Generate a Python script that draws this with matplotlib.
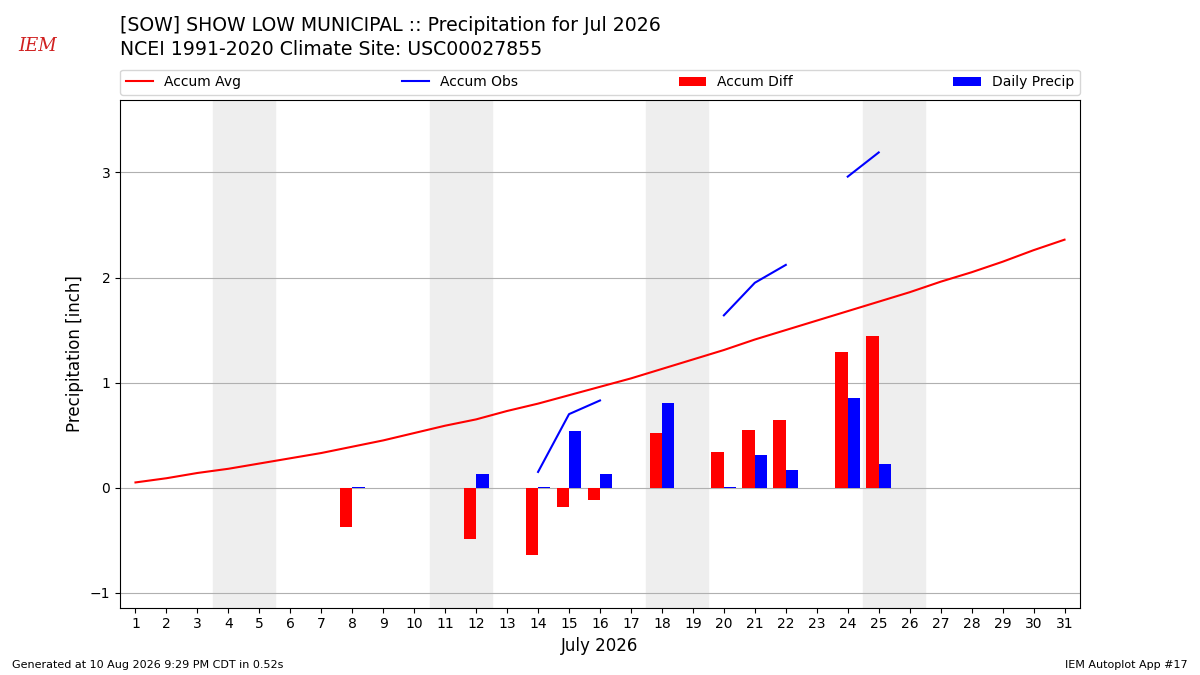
import numpy as np
import matplotlib
matplotlib.use("Agg")
import matplotlib.pyplot as plt

nan = np.nan

days = np.arange(1, 32)
accum_avg = [0.05, 0.09, 0.14, 0.18, 0.23, 0.28, 0.33, 0.39, 0.45, 0.52,
             0.59, 0.65, 0.73, 0.80, 0.88, 0.96, 1.04, 1.13, 1.22, 1.31,
             1.41, 1.50, 1.59, 1.68, 1.77, 1.86, 1.96, 2.05, 2.15, 2.26, 2.36]
accum_obs = [nan, nan, nan, nan, nan, nan, nan, 0.02, nan, nan,
             nan, 0.16, nan, 0.15, 0.70, 0.83, nan, 1.65, nan, 1.64,
             1.95, 2.12, nan, 2.96, 3.19, nan, nan, nan, nan, nan, nan]
accum_diff = [nan, nan, nan, nan, nan, nan, nan, -0.37, nan, nan,
              nan, -0.49, nan, -0.64, -0.18, -0.12, nan, 0.52, nan, 0.34,
              0.55, 0.64, nan, 1.29, 1.44, nan, nan, nan, nan, nan, nan]
daily_precip = [nan, nan, nan, nan, nan, nan, nan, 0.01, nan, nan,
                nan, 0.13, nan, 0.01, 0.54, 0.13, nan, 0.81, nan, 0.01,
                0.31, 0.17, nan, 0.85, 0.23, nan, nan, nan, nan, nan, nan]
weekends = [(4, 5), (11, 12), (18, 19), (25, 26)]

fig = plt.figure(figsize=(12, 6.75), dpi=100)
ax = fig.add_axes([0.1, 0.1, 0.8, 0.752])

for start, end in weekends:
    ax.axvspan(start - 0.5, end + 0.5, color="#eeeeee", zorder=0)

ax.plot(days, accum_avg, color="red", lw=1.5, label="Accum Avg", zorder=3)
ax.plot(days, accum_obs, color="blue", lw=1.5, label="Accum Obs", zorder=3)
ax.bar(days - 0.2, accum_diff, width=0.4, color="red", label="Accum Diff", zorder=2)
ax.bar(days + 0.2, daily_precip, width=0.4, color="blue", label="Daily Precip", zorder=2)

ax.set_xlim(0.5, 31.5)
ax.set_ylim(-1.14, 3.69)
ax.set_xticks(days)
ax.set_yticks([-1, 0, 1, 2, 3])
ax.grid(axis="y", color="#b0b0b0", lw=0.8, zorder=1)
ax.set_axisbelow(True)
ax.set_xlabel("July 2026", fontsize=12)
ax.set_ylabel("Precipitation [inch]", fontsize=12)

ax.legend(loc="lower left", bbox_to_anchor=(0, 1.01, 1, 0.05), mode="expand",
          ncol=4, fontsize=10, borderaxespad=0)

fig.text(0.1, 0.976, "[SOW] SHOW LOW MUNICIPAL :: Precipitation for Jul 2026\n"
         "NCEI 1991-2020 Climate Site: USC00027855", fontsize=13.6, va="top",
         ha="left", linespacing=1.3)
# stand-in for the IEM logo
fig.text(0.031, 0.925, "IEM", color="#d02020", fontsize=13, family="DejaVu Serif",
         style="italic", ha="center")
fig.text(0.01, 0.01, "Generated at 10 Aug 2026 9:29 PM CDT in 0.52s", fontsize=8)
fig.text(0.99, 0.01, "IEM Autoplot App #17", fontsize=8, ha="right")

fig.savefig("out.png", dpi=100)
